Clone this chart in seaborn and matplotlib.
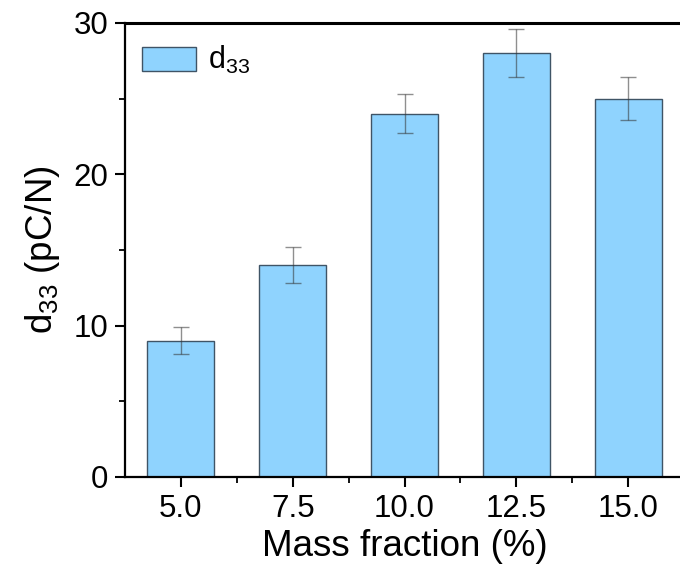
import matplotlib
matplotlib.use("Agg")
import matplotlib.pyplot as plt
import seaborn as sns
import pandas as pd
from matplotlib.ticker import MultipleLocator, FixedLocator

categories = ["5.0", "7.5", "10.0", "12.5", "15.0"]
d33_values = [9.0, 14.0, 24.0, 28.0, 25.0]
d33_errors = [0.9, 1.2, 1.3, 1.6, 1.4]
y_ticks = [0, 10, 20, 30]

sns.set_theme(style="ticks")
plt.rcParams["font.family"] = ["Liberation Sans", "DejaVu Sans"]
plt.rcParams["mathtext.fontset"] = "custom"
plt.rcParams["mathtext.rm"] = "Liberation Sans"
plt.rcParams["mathtext.default"] = "regular"
plt.rcParams["text.color"] = "black"
plt.rcParams["axes.labelcolor"] = "black"
plt.rcParams["xtick.color"] = "black"
plt.rcParams["ytick.color"] = "black"

df = pd.DataFrame({"fraction": categories, "d33": d33_values})

fig = plt.figure(figsize=(6.8, 5.8), dpi=100)
ax = fig.add_axes([125/680, 1-477/580, 559/680, 454/580])

sns.barplot(data=df, x="fraction", y="d33", order=categories, width=0.6,
            color="#8FD3FE", edgecolor="#3f5466", linewidth=1.0,
            saturation=1, label="d$_{33}$", ax=ax, zorder=2)

ax.errorbar(range(len(categories)), d33_values, yerr=d33_errors, fmt="none",
            ecolor="#333333", alpha=0.55, elinewidth=1.0, capsize=6,
            capthick=1.0, zorder=3)

ax.set_xlim(-0.5, 4.5)
ax.set_ylim(0, 30)
ax.yaxis.set_major_locator(FixedLocator(y_ticks))
ax.yaxis.set_minor_locator(MultipleLocator(5))
ax.xaxis.set_minor_locator(FixedLocator([0.5, 1.5, 2.5, 3.5]))

for s in ["left", "bottom", "top", "right"]:
    ax.spines[s].set_visible(True)
    ax.spines[s].set_color("black")
ax.spines["left"].set_linewidth(1.6)
ax.spines["bottom"].set_linewidth(1.6)
ax.spines["top"].set_linewidth(2.2)
ax.spines["right"].set_linewidth(1.6)

ax.tick_params(axis="both", which="major", direction="out", length=7, width=1.5,
               labelsize=22.5, colors="black", pad=5)
ax.tick_params(axis="both", which="minor", direction="out", length=4, width=1.3)
ax.tick_params(axis="x", which="both", top=False)
ax.tick_params(axis="y", which="both", right=False)

ax.set_xlabel("Mass fraction (%)", fontsize=26.5, labelpad=4, color="black")
ax.set_ylabel("d$_{33}$ (pC/N)", fontsize=26.5, labelpad=8, color="black")

leg = ax.legend(loc="upper left", frameon=False, fontsize=22, handlelength=1.75,
                handleheight=0.85, handletextpad=0.4, borderaxespad=0.4,
                bbox_to_anchor=(-0.013, 1.007))
for t in leg.get_texts():
    t.set_color("black")

fig.savefig("out.png", dpi=100)
